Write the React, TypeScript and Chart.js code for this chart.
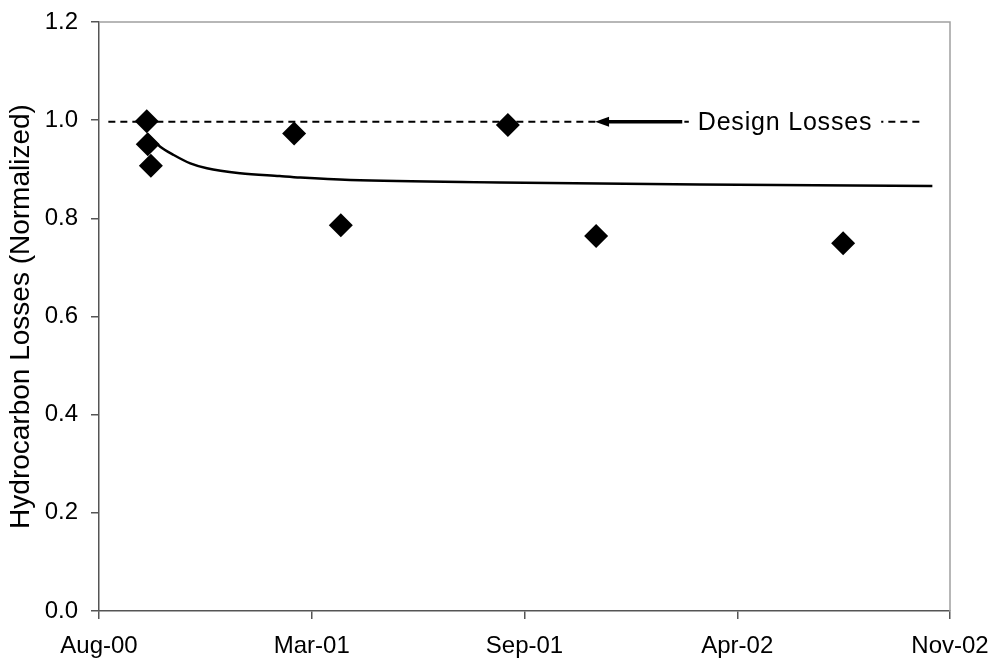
import React, { useEffect, useRef } from "react";
import { Chart, registerables } from "chart.js";

Chart.register(...registerables);

// x values are days counted from the start of the axis (Aug-00); ticks every 205 days
const xTickLabels = ["Aug-00", "Mar-01", "Sep-01", "Apr-02", "Nov-02"];
const xMin = 0;
const xMax = 820;
const xStep = 205;

const yTickMin = 0;
const yTickMax = 1.2;
const yTickStep = 0.2;

// measured samples (diamonds)
const sampleDays = [46, 47, 50, 188, 233, 394, 479, 717];
const sampleLosses = [0.998, 0.951, 0.907, 0.973, 0.786, 0.99, 0.764, 0.749];

// fitted trend curve
const trendDays = [46, 59, 72, 88, 104, 136, 174, 194, 242, 386, 579, 803];
const trendLosses = [0.972, 0.946, 0.929, 0.912, 0.902, 0.892, 0.886, 0.883, 0.878, 0.873, 0.869, 0.866];

// design losses reference line
const designDays = [9, 791];
const designLoss = 0.997;
const designLabel = "Design Losses";
const designLabelDay = 577;
const arrowFromDay = 562;
const arrowToDay = 478;

const yTitle = "Hydrocarbon Losses (Normalized)";

const FONT = '"Liberation Sans", Arial, Helvetica, sans-serif';

const annotationPlugin = {
  id: "designAnnotation",
  beforeDatasetsDraw(chart: any) {
    const { ctx, chartArea } = chart;
    ctx.save();
    ctx.strokeStyle = "#a0a0a0";
    ctx.lineWidth = 1.5;
    ctx.beginPath();
    ctx.moveTo(chartArea.left, chartArea.top);
    ctx.lineTo(chartArea.right, chartArea.top);
    ctx.lineTo(chartArea.right, chartArea.bottom);
    ctx.stroke();
    ctx.restore();
  },
  afterDatasetsDraw(chart: any) {
    const { ctx } = chart;
    const x = chart.scales.x;
    const y = chart.scales.y;
    const yy = y.getPixelForValue(designLoss);
    ctx.save();
    ctx.font = `25px ${FONT}`;
    try {
      (ctx as any).letterSpacing = "0.8px";
    } catch (e) {}
    const tx = x.getPixelForValue(designLabelDay);
    const w = ctx.measureText(designLabel).width;
    ctx.fillStyle = "#fff";
    ctx.fillRect(tx - 9, yy - 13, w + 18, 26);
    ctx.fillStyle = "#000";
    ctx.textBaseline = "alphabetic";
    ctx.textAlign = "left";
    ctx.fillText(designLabel, tx, yy + 8);
    try {
      (ctx as any).letterSpacing = "0px";
    } catch (e) {}
    const a0 = x.getPixelForValue(arrowFromDay);
    const a1 = x.getPixelForValue(arrowToDay);
    ctx.strokeStyle = "#000";
    ctx.lineWidth = 3.5;
    ctx.beginPath();
    ctx.moveTo(a0, yy);
    ctx.lineTo(a1 + 10, yy);
    ctx.stroke();
    ctx.beginPath();
    ctx.moveTo(a1, yy);
    ctx.lineTo(a1 + 14, yy - 5);
    ctx.lineTo(a1 + 14, yy + 5);
    ctx.closePath();
    ctx.fill();
    ctx.restore();
  },
};

export default function App() {
  const ref = useRef<HTMLCanvasElement | null>(null);

  useEffect(() => {
    if (!ref.current) return;
    const samples = sampleDays.map((d, i) => ({ x: d, y: sampleLosses[i] }));
    const trend = trendDays.map((d, i) => ({ x: d, y: trendLosses[i] }));
    const design = designDays.map((d) => ({ x: d, y: designLoss }));

    const chart = new Chart(ref.current, {
      type: "scatter",
      data: {
        datasets: [
          {
            label: "Measured",
            data: samples,
            pointStyle: "rectRot",
            pointRadius: 12,
            pointHoverRadius: 12,
            backgroundColor: "#000",
            borderColor: "#000",
            borderWidth: 0,
            showLine: false,
            order: 0,
          },
          {
            label: "Trend",
            data: trend,
            showLine: true,
            pointRadius: 0,
            borderColor: "#000",
            borderWidth: 2.5,
            cubicInterpolationMode: "monotone",
            order: 1,
          },
          {
            label: designLabel,
            data: design,
            showLine: true,
            pointRadius: 0,
            borderColor: "#000",
            borderWidth: 2,
            borderDash: [7, 5],
            order: 2,
          },
        ],
      } as any,
      options: {
        animation: false,
        responsive: false,
        maintainAspectRatio: false,
        devicePixelRatio: 1,
        layout: { padding: { left: 0, top: 22, right: 42, bottom: 0 } },
        plugins: {
          legend: { display: false },
          tooltip: { enabled: false },
        },
        scales: {
          x: {
            type: "linear",
            min: xMin,
            max: xMax,
            afterFit: (s: any) => {
              s.height = 49;
              s.paddingLeft = 0;
              s.paddingRight = 0;
            },
            ticks: {
              stepSize: xStep,
              color: "#000",
              font: { family: FONT, size: 24 },
              padding: 13,
              maxRotation: 0,
              callback: (_v: any, i: number) => xTickLabels[i],
            },
            grid: { drawOnChartArea: false, drawTicks: true, tickLength: 8, color: "#555", lineWidth: 1.5 },
            border: { color: "#555", width: 1.5 },
          },
          y: {
            type: "linear",
            min: yTickMin,
            max: yTickMax,
            afterFit: (s: any) => {
              s.width = 99;
              s.paddingTop = 0;
              s.paddingBottom = 0;
            },
            ticks: {
              stepSize: yTickStep,
              color: "#000",
              font: { family: FONT, size: 24 },
              padding: 13,
              callback: (v: any) => Number(v).toFixed(1),
            },
            grid: { drawOnChartArea: false, drawTicks: true, tickLength: 8, color: "#555", lineWidth: 1.5 },
            border: { color: "#555", width: 1.5 },
            title: {
              display: true,
              text: yTitle,
              color: "#000",
              font: { family: FONT, size: 28 },
              padding: { top: 4, bottom: 0 },
            },
          },
        },
      } as any,
      plugins: [annotationPlugin],
    });
    return () => chart.destroy();
  }, []);

  return (
    <div style={{ position: "absolute", left: 0, top: 0, width: 992, height: 660, background: "#fff" }}>
      <canvas ref={ref} width={992} height={660} style={{ width: 992, height: 660, display: "block" }} />
    </div>
  );
}
